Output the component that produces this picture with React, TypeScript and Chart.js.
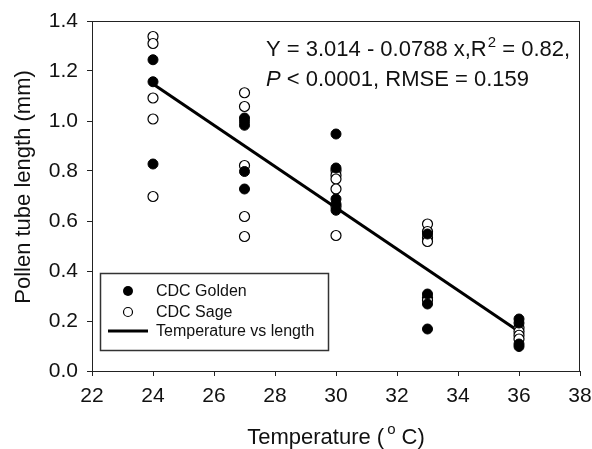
import { useEffect, useRef } from "react";
import { Chart, registerables } from "chart.js";

Chart.register(...registerables);

// ---- data ----
const temperatures = [24, 27, 30, 33, 36];
const goldenLengths = [
  [1.245, 1.157, 0.828],
  [1.012, 0.998, 0.983, 0.798, 0.728],
  [0.948, 0.812, 0.688, 0.668, 0.643],
  [0.548, 0.308, 0.268, 0.168],
  [0.208, 0.192, 0.108, 0.098],
];
const sageLengths = [
  [1.338, 1.31, 1.092, 1.008, 0.698],
  [1.113, 1.058, 0.822, 0.618, 0.538],
  [0.802, 0.783, 0.768, 0.728, 0.658, 0.542],
  [0.588, 0.558, 0.533, 0.518, 0.293, 0.283],
  [0.173, 0.158, 0.143, 0.128],
];
const fitX = [24, 36];
const fitY = [1.148, 0.158];
const xTicks = [22, 24, 26, 28, 30, 32, 34, 36, 38];
const yTicks = [0.0, 0.2, 0.4, 0.6, 0.8, 1.0, 1.2, 1.4];
const legendLabels = ["CDC Golden", "CDC Sage", "Temperature vs length"];
const xTitle = ["Temperature (", "o", " C)"];
const yTitle = "Pollen tube length (mm)";
const eqLine1 = ["Y = 3.014 - 0.0788 x,R", "2", " = 0.82,"];
const eqLine2 = ["P", " < 0.0001, RMSE = 0.159"];

const FONT = '"Liberation Sans", Arial, sans-serif';
const INK = "#111";

const toPoints = (groups: number[][]) =>
  groups.flatMap((vals, i) => vals.map((v) => ({ x: temperatures[i], y: v })));

const decorPlugin = {
  id: "decor",
  afterDraw(chart: any) {
    const ctx: CanvasRenderingContext2D = chart.ctx;
    const { left, top, right, bottom } = chart.chartArea;
    ctx.save();
    // frame
    ctx.strokeStyle = "#222";
    ctx.lineWidth = 1;
    ctx.strokeRect(Math.round(left) + 0.5, Math.round(top) + 0.5, Math.round(right - left) - 1, Math.round(bottom - top));

    // legend box
    const lx = left + 8;
    const ly = bottom - 98;
    const lw = 228;
    const lh = 77;
    ctx.fillStyle = "#fff";
    ctx.fillRect(lx, ly, lw, lh);
    ctx.strokeStyle = "#333";
    ctx.lineWidth = 1.5;
    ctx.strokeRect(lx + 0.5, ly + 0.5, lw, lh);
    ctx.font = `16px ${FONT}`;
    ctx.fillStyle = INK;
    ctx.textBaseline = "middle";
    ctx.textAlign = "left";
    const rows = [ly + 18, ly + 39, ly + 58];
    // golden marker
    ctx.beginPath();
    ctx.arc(lx + 28, rows[0], 5, 0, Math.PI * 2);
    ctx.fillStyle = "#000";
    ctx.fill();
    // sage marker
    ctx.beginPath();
    ctx.arc(lx + 28, rows[1], 4.5, 0, Math.PI * 2);
    ctx.fillStyle = "#fff";
    ctx.fill();
    ctx.strokeStyle = "#000";
    ctx.lineWidth = 1.2;
    ctx.stroke();
    // line
    ctx.beginPath();
    ctx.moveTo(lx + 8, rows[2]);
    ctx.lineTo(lx + 48, rows[2]);
    ctx.lineWidth = 3;
    ctx.stroke();
    ctx.fillStyle = INK;
    legendLabels.forEach((t, i) => ctx.fillText(t, lx + 56, rows[i] + 1));

    // equation annotation
    ctx.font = `22px ${FONT}`;
    ctx.textBaseline = "alphabetic";
    let ex = 266;
    const ey1 = top + 35;
    ctx.fillText(eqLine1[0], ex, ey1);
    ex += ctx.measureText(eqLine1[0]).width;
    ctx.font = `15px ${FONT}`;
    ctx.fillText(eqLine1[1], ex + 1, ey1 - 9);
    ex += ctx.measureText(eqLine1[1]).width + 1;
    ctx.font = `22px ${FONT}`;
    ctx.fillText(eqLine1[2], ex, ey1);
    let ex2 = 266;
    const ey2 = top + 65;
    ctx.font = `italic 22px ${FONT}`;
    ctx.fillText(eqLine2[0], ex2, ey2);
    ex2 += ctx.measureText(eqLine2[0]).width;
    ctx.font = `22px ${FONT}`;
    ctx.fillText(eqLine2[1], ex2, ey2);

    // x title
    const cx = (left + right) / 2;
    const tY = 444;
    ctx.font = `22px ${FONT}`;
    const w0 = ctx.measureText(xTitle[0]).width;
    const w2 = ctx.measureText(xTitle[2]).width;
    ctx.font = `15px ${FONT}`;
    const w1 = ctx.measureText(xTitle[1]).width + 3;
    let tx = cx - (w0 + w1 + w2) / 2;
    ctx.font = `22px ${FONT}`;
    ctx.fillText(xTitle[0], tx, tY);
    tx += w0 + 3;
    ctx.font = `15px ${FONT}`;
    ctx.fillText(xTitle[1], tx, tY - 10);
    tx += w1 - 3;
    ctx.font = `22px ${FONT}`;
    ctx.fillText(xTitle[2], tx, tY);

    // y title
    ctx.save();
    ctx.translate(24, 187);
    ctx.rotate(-Math.PI / 2);
    ctx.textAlign = "center";
    ctx.textBaseline = "middle";
    ctx.font = `22px ${FONT}`;
    ctx.fillText(yTitle, 0, 0);
    ctx.restore();

    ctx.restore();
  },
};

export default function App() {
  const ref = useRef<HTMLCanvasElement | null>(null);

  useEffect(() => {
    document.body.style.margin = "0";
    document.body.style.background = "#fff";
    const canvas = ref.current!;
    const chart = new Chart(canvas, {
      type: "scatter",
      data: {
        datasets: [
          {
            label: legendLabels[0],
            data: toPoints(goldenLengths),
            pointRadius: 5,
            pointBackgroundColor: "#000",
            pointBorderColor: "#000",
            pointBorderWidth: 1,
            order: 1,
          },
          {
            label: legendLabels[1],
            data: toPoints(sageLengths),
            pointRadius: 5,
            pointBackgroundColor: "#fff",
            pointBorderColor: "#000",
            pointBorderWidth: 1.2,
            order: 2,
          },
          {
            label: legendLabels[2],
            type: "line",
            data: fitX.map((x, i) => ({ x, y: fitY[i] })),
            borderColor: "#000",
            borderWidth: 3,
            pointRadius: 0,
            showLine: true,
            fill: false,
            order: 3,
          } as any,
        ],
      },
      options: {
        animation: false,
        responsive: false,
        maintainAspectRatio: false,
        events: [],
        layout: { padding: { left: 0, top: 21, right: 12, bottom: 0 } },
        plugins: { legend: { display: false }, tooltip: { enabled: false } },
        scales: {
          x: {
            type: "linear",
            min: 22,
            max: 38,
            afterBuildTicks: (s: any) => {
              s.ticks = xTicks.map((v) => ({ value: v }));
            },
            afterFit: (s: any) => {
              s.height = 78;
              s.paddingLeft = 0;
              s.paddingRight = 0;
            },
            grid: { display: true, drawOnChartArea: false, drawTicks: true, tickLength: 5, color: "#222" },
            border: { display: false },
            ticks: {
              font: { family: FONT, size: 21 },
              color: INK,
              padding: 8,
              maxRotation: 0,
              callback: (v: any) => String(v),
            },
          },
          y: {
            type: "linear",
            min: 0,
            max: 1.4,
            afterBuildTicks: (s: any) => {
              s.ticks = yTicks.map((v) => ({ value: v }));
            },
            afterFit: (s: any) => {
              s.width = 92;
              s.paddingTop = 0;
              s.paddingBottom = 0;
            },
            grid: { display: true, drawOnChartArea: false, drawTicks: true, tickLength: 5, color: "#222" },
            border: { display: false },
            ticks: {
              font: { family: FONT, size: 21 },
              color: INK,
              padding: 9,
              callback: (v: any) => Number(v).toFixed(1),
            },
          },
        },
      },
      plugins: [decorPlugin],
    });
    return () => chart.destroy();
  }, []);

  return (
    <div style={{ position: "absolute", left: 0, top: 0, width: 592, height: 449, background: "#fff" }}>
      <canvas ref={ref} width={592} height={449} style={{ width: 592, height: 449 }} />
    </div>
  );
}
